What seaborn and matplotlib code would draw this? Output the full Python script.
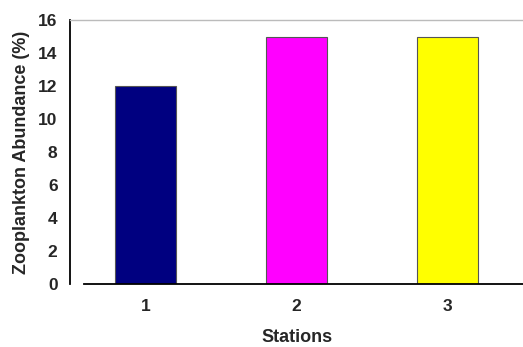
import pandas as pd
import matplotlib
matplotlib.use("Agg")
import matplotlib.pyplot as plt
import seaborn as sns

# data
stations = ["1", "2", "3"]
abundance = [12, 15, 15]
colors = ["#000080", "#FF00FF", "#FFFF00"]

df = pd.DataFrame({"Stations": stations, "Abundance": abundance})

sns.set_style("white")
plt.rcParams['font.family'] = ['Liberation Sans', 'DejaVu Sans']

fig = plt.figure(figsize=(5.23, 3.47), dpi=100)
ax = fig.add_axes([0.134, 0.182, 0.866, 0.760])

sns.barplot(data=df, x="Stations", y="Abundance", hue="Stations",
            palette=colors, saturation=1, legend=False, width=0.4,
            edgecolor="#555555", linewidth=0.8, ax=ax)

ax.set_ylim(0, 16)
ax.set_xlim(-0.5, 2.5)
ax.set_yticks(range(0, 17, 2))
ax.set_xticks([0.5, 1.5], minor=True)
ax.tick_params(axis="x", which="major", length=0, pad=11)
ax.tick_params(axis="x", which="minor", direction="out", length=4, width=1.2, color="black")
ax.tick_params(axis="y", direction="out", length=4, width=1.2, color="black", pad=5)
for lab in ax.get_xticklabels() + ax.get_yticklabels():
    lab.set_fontweight("bold")
    lab.set_fontsize(12.5)

ax.set_xlabel("Stations", fontsize=13, fontweight="bold", labelpad=11)
ax.set_ylabel("Zooplankton Abundance (%)", fontsize=13, fontweight="bold", labelpad=6)

for side in ["left", "bottom"]:
    ax.spines[side].set_color("black")
    ax.spines[side].set_linewidth(1.3)
ax.spines["bottom"].set_bounds(-0.41, 2.5)
ax.spines["top"].set_color("#bbbbbb")
ax.spines["top"].set_linewidth(1)
ax.spines["right"].set_visible(False)

fig.savefig("out.png", dpi=100)
